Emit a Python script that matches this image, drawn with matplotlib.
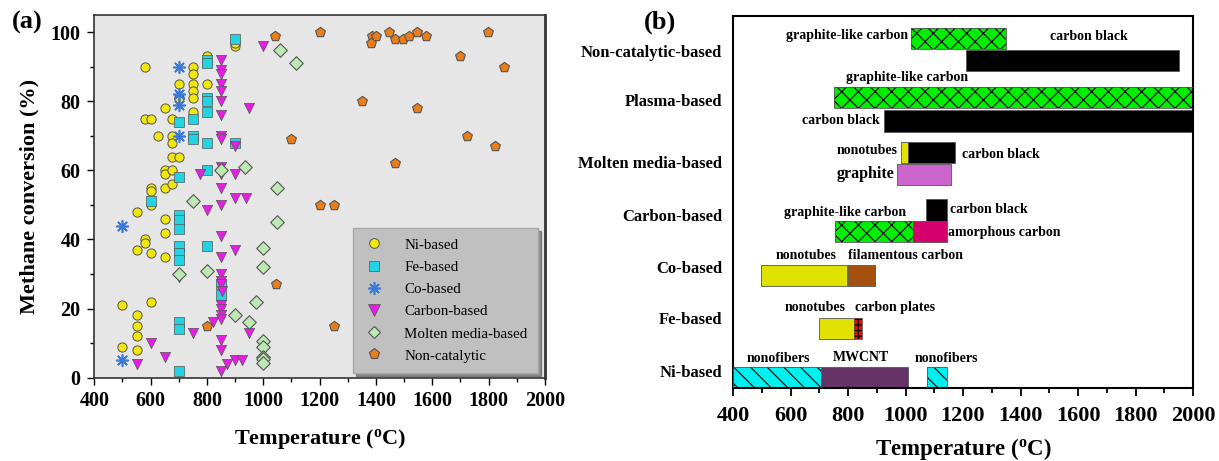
import matplotlib
matplotlib.use("Agg")
import matplotlib.pyplot as plt
from matplotlib.lines import Line2D
from matplotlib.ticker import MultipleLocator
import matplotlib.transforms as mtrans

plt.rcParams['font.family'] = ['Liberation Serif', 'DejaVu Serif']
plt.rcParams['hatch.linewidth'] = 0.8

# ---------------- data: panel (a) ----------------
ni_T = [580, 700, 700, 750, 750, 750, 750, 750, 750, 800, 800, 900, 900, 650, 580, 600, 675, 625, 675, 675,
        675, 700, 650, 650, 675, 600, 600, 650, 675, 600, 550, 650, 650, 580, 580, 550, 600, 650, 500, 600,
        550, 550, 550, 500, 550, 700, 700, 700]
ni_V = [90, 85, 81, 90, 88, 85, 83, 81, 77, 93, 85, 96, 97, 78, 75, 75, 75, 70, 70, 68,
        64, 64, 60, 59, 60, 55, 54, 55, 56, 50, 48, 46, 42, 40, 39, 37, 36, 35, 21, 22,
        18, 15, 12, 9, 8, 45, 37, 81]

fe_T = [900, 800, 800, 800, 800, 800, 750, 700, 750, 750, 800, 900, 800, 700, 600, 700, 700, 700, 800, 700,
        700, 700, 850, 850, 700, 700, 700]
fe_V = [98, 92, 91, 81, 80, 77, 75, 74, 70, 69, 68, 68, 60, 58, 51, 47, 45.5, 43, 38, 38,
        36, 34, 27, 24, 16, 14, 2]

co_T = [700, 700, 700, 700, 500, 500]
co_V = [90, 82, 79, 70, 44, 5]

cb_T = [1000, 850, 850, 850, 850, 850, 850, 950, 850, 850, 850, 900, 850, 850, 775, 900, 850, 900, 940, 800,
        850, 850, 900, 850, 700, 850, 850, 850, 855, 850, 850, 850, 850, 820, 750, 950, 850, 600, 850, 650,
        900, 925, 870, 550, 850]
cb_V = [96, 92, 89, 88, 85, 83, 80, 78, 76, 70, 69, 67, 61, 59, 59, 59, 55, 52, 52, 48.5,
        50, 41, 37, 35, 29, 30, 28, 27, 25, 21, 20, 18, 17, 16, 13, 13, 11, 10, 8, 6,
        5, 5, 4, 4, 2]

mm_T = [1060, 1115, 935, 850, 1050, 750, 1050, 1000, 1000, 700, 800, 975, 900, 950, 1000, 1000, 1000, 1000, 1000]
mm_V = [95, 91, 61, 60, 55, 51, 45, 37.5, 32, 30, 31, 22, 18, 16, 10.5, 9, 6, 5.3, 4.2]

nc_T = [1040, 1200, 1100, 1200, 1045, 800, 1385, 1400, 1382, 1447, 1468, 1496, 1518, 1547, 1577, 1796, 1697,
        1855, 1350, 1547, 1724, 1824, 1468, 1250, 1250]
nc_V = [99, 100, 69, 50, 27, 15, 99, 99, 97, 100, 98, 98, 99, 100, 99, 100, 93,
        90, 80, 78, 70, 67, 62, 50, 15]

series_names = ['Ni-based', 'Fe-based', 'Co-based', 'Carbon-based', 'Molten media-based', 'Non-catalytic']

# ---------------- data: panel (b) ----------------
categories = ['Ni-based', 'Fe-based', 'Co-based', 'Carbon-based', 'Molten media-based',
              'Plasma-based', 'Non-catalytic-based']
bar_labels = ['nonofibers', 'MWCNT', 'nonofibers',
              'nonotubes', 'carbon plates',
              'nonotubes', 'filamentous carbon',
              'graphite-like carbon', 'amorphous carbon', 'carbon black',
              'graphite', 'nonotubes', 'carbon black',
              'carbon black', 'graphite-like carbon',
              'carbon black', 'graphite-like carbon']
bar_start = [400, 706, 1074, 699, 820, 496, 800, 755, 1027, 1070, 971, 983, 1010, 925, 750, 1209, 1020]
bar_end = [706, 1008, 1143, 820, 849, 797, 895, 1027, 1143, 1143, 1158, 1010, 1172, 2000, 2000, 1951, 1350]

# ---------------- layout / style ----------------
bar_y = [10.7, 10.7, 10.7, 59.7, 59.7, 112.8, 112.8, 156.3, 156.3, 178.2, 213.5, 235.7, 235.7,
         267.0, 290.5, 327.5, 349.7]
bar_color = ['#00f0f0', '#663366', '#00f0f0', '#e2e200', '#ff0000', '#e2e200', '#a5500c',
             '#00ee00', '#d4006c', '#000000', '#cc66cc', '#e2e200', '#000000',
             '#000000', '#00ee00', '#000000', '#00ee00']
bar_hatch = ['\\\\', None, '\\\\', None, '+++', None, None,
             'xx', None, None, None, None, None,
             None, 'xx', None, 'xx']
lab_x = [557, 845, 1141, 685, 824, 654, 800, 791, 1148, 1155, 963, 974, 1197, 911, 1005, 1503, 1009]
lab_y = [30, 31, 30, 81, 81, 133, 133, 176, 156, 179, 214, 237, 233, 267, 311, 352, 352]
lab_ha = ['center', 'center', 'center', 'center', 'left', 'center', 'left', 'center', 'left', 'left',
          'right', 'right', 'left', 'right', 'center', 'left', 'right']
cat_y = [15, 68, 119, 171, 224, 286, 335]

fig = plt.figure(figsize=(12.19, 4.61), dpi=100)

# ---- panel (a) ----
axa = fig.add_axes([94.3 / 1219, 1 - 377.6 / 461, (545 - 94.3) / 1219, (377.6 - 15) / 461])
axa.set_facecolor('#e6e6e6')
ec = '#555555'
ms = 44
axa.scatter(ni_T, ni_V, s=ms, marker='o', facecolor='#f2e60c', edgecolor=ec, linewidth=0.7, zorder=3)
axa.scatter(fe_T, fe_V, s=ms, marker='s', facecolor='#22d4e2', edgecolor=ec, linewidth=0.5, zorder=3)
axa.scatter(co_T, co_V, s=70, marker=(8, 2, 0), color='#3a78d8', linewidth=1.2, zorder=4)
axa.scatter(cb_T, cb_V, s=55, marker='v', facecolor='#e41ee4', edgecolor=ec, linewidth=0.5, zorder=3)
axa.scatter(mm_T, mm_V, s=48, marker='D', facecolor='#bde8b4', edgecolor=ec, linewidth=0.8, zorder=3)
axa.scatter(nc_T, nc_V, s=55, marker='p', facecolor='#eb7e16', edgecolor=ec, linewidth=0.8, zorder=3)
axa.set_xlim(400, 2000)
axa.set_ylim(0, 105)
axa.xaxis.set_major_locator(MultipleLocator(200))
axa.xaxis.set_minor_locator(MultipleLocator(100))
axa.yaxis.set_major_locator(MultipleLocator(20))
axa.yaxis.set_minor_locator(MultipleLocator(10))
axa.tick_params(which='major', direction='out', length=5, width=1, labelsize=14.5, pad=5)
axa.tick_params(which='minor', direction='out', length=3, width=1)
for lab in axa.get_xticklabels() + axa.get_yticklabels():
    lab.set_fontweight('bold')
for sp in axa.spines.values():
    sp.set_linewidth(1.2)
    sp.set_color('#333333')
axa.spines['right'].set_linewidth(2)
axa.set_xlabel('Temperature ($\\mathregular{^o}$C)', fontsize=16, fontweight='bold', labelpad=11)
axa.set_ylabel('Methane conversion (%)', fontsize=16, fontweight='bold', labelpad=8)

handles = [
    Line2D([], [], ls='', marker='o', ms=7, mfc='#f2e60c', mec=ec, mew=0.7),
    Line2D([], [], ls='', marker='s', ms=7, mfc='#22d4e2', mec=ec, mew=0.5),
    Line2D([], [], ls='', marker=(8, 2, 0), ms=9, color='#3a78d8', mew=1.2),
    Line2D([], [], ls='', marker='v', ms=8, mfc='#e41ee4', mec=ec, mew=0.5),
    Line2D([], [], ls='', marker='D', ms=6.5, mfc='#bde8b4', mec=ec, mew=0.8),
    Line2D([], [], ls='', marker='p', ms=8, mfc='#eb7e16', mec=ec, mew=0.8),
]
leg = axa.legend(handles, series_names, loc='lower right', bbox_to_anchor=(0.985, 0.012),
                 prop={'family': 'Liberation Serif', 'size': 10.8}, frameon=True, fancybox=False,
                 shadow=True, labelspacing=0.58, handletextpad=1.4, borderpad=0.7, handlelength=1.3,
                 borderaxespad=0)
leg.get_frame().set_facecolor('#c0c0c0')
leg.get_frame().set_edgecolor('#a8a8a8')
leg.get_frame().set_alpha(1)

fig.text(27 / 1219, 1 - 22 / 461, '(a)', fontsize=19, fontweight='bold', ha='center', va='center')

# ---- panel (b) ----
axb = fig.add_axes([733 / 1219, 1 - 388 / 461, 460 / 1219, 372 / 461])
widths = [e - s for s, e in zip(bar_start, bar_end)]
for y, s, w, c, h in zip(bar_y, bar_start, widths, bar_color, bar_hatch):
    axb.barh(y, w, left=s, height=21.4, color=c, edgecolor='#555555' if h is None else 'black',
             linewidth=0.6 if h is None else 0.0, hatch=h, zorder=2)
    if h is not None:
        axb.barh(y, w, left=s, height=21.4, fill=False, edgecolor='#555555', linewidth=0.6, zorder=3)
for x, y, t, ha in zip(lab_x, lab_y, bar_labels, lab_ha):
    fs = 11.5 if t == 'graphite' else 10
    axb.text(x, y, t, fontsize=fs, fontweight='bold', ha=ha, va='center', zorder=4)
trans = mtrans.blended_transform_factory(axb.transAxes, axb.transData)
for y, t in zip(cat_y, categories):
    axb.text(-0.024, y, t, transform=trans, fontsize=12, fontweight='bold', ha='right', va='center')
axb.set_xlim(400, 2000)
axb.set_ylim(0, 372)
axb.set_yticks([])
axb.xaxis.set_major_locator(MultipleLocator(200))
axb.xaxis.set_minor_locator(MultipleLocator(100))
axb.tick_params(axis='x', which='major', direction='out', length=6, width=1.3, labelsize=16, pad=7)
axb.tick_params(axis='x', which='minor', direction='out', length=3.5, width=1.3)
for lab in axb.get_xticklabels():
    lab.set_fontweight('bold')
for sp in axb.spines.values():
    sp.set_linewidth(1.5)
axb.set_xlabel('Temperature ($\\mathregular{^o}$C)', fontsize=16.5, fontweight='bold', labelpad=7)

fig.text(660 / 1219, 1 - 22 / 461, '(b)', fontsize=19, fontweight='bold', ha='center', va='center')

fig.savefig('out.png', dpi=100)
